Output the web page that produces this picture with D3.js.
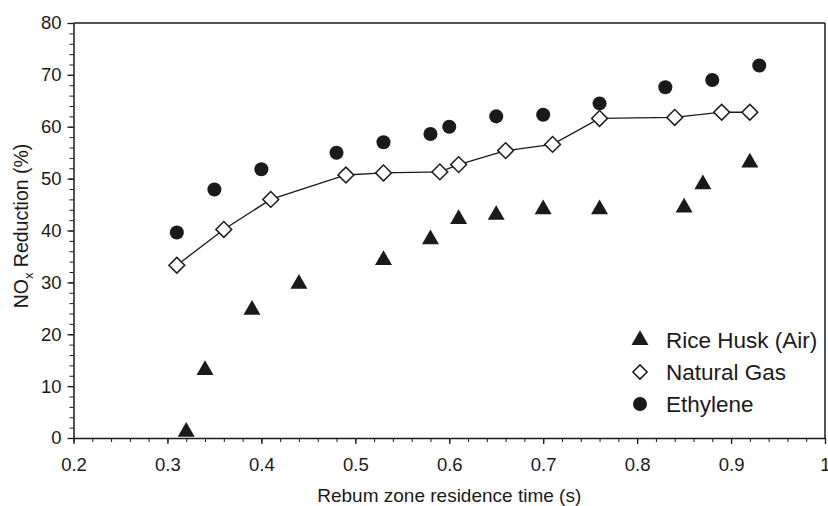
<!DOCTYPE html>
<html>
<head>
<meta charset="utf-8">
<script src="https://cdn.jsdelivr.net/npm/d3@7"></script>
<style>
  html, body { margin: 0; padding: 0; background: #fff; }
  text { font-family: Arial, "Liberation Sans", sans-serif; fill: #1a1a1a; }
</style>
</head>
<body>
<svg id="chart" width="828" height="506"></svg>
<script>
// ---- data ----
const riceX = [0.32, 0.34, 0.39, 0.44, 0.53, 0.58, 0.61, 0.65, 0.70, 0.76, 0.85, 0.87, 0.92];
const riceY = [1.2, 13.1, 24.7, 29.7, 34.3, 38.3, 42.2, 43.0, 44.1, 44.1, 44.4, 48.9, 53.1];
const gasX = [0.31, 0.36, 0.41, 0.49, 0.53, 0.59, 0.61, 0.66, 0.71, 0.76, 0.84, 0.89, 0.92];
const gasY = [33.3, 40.2, 46.0, 50.7, 51.1, 51.3, 52.7, 55.4, 56.6, 61.6, 61.8, 62.8, 62.8];
const ethX = [0.31, 0.35, 0.40, 0.48, 0.53, 0.58, 0.60, 0.65, 0.70, 0.76, 0.83, 0.88, 0.93];
const ethY = [39.6, 47.9, 51.8, 55.0, 57.0, 58.6, 60.0, 62.0, 62.3, 64.5, 67.6, 69.0, 71.8];
const xTicks = [0.2, 0.3, 0.4, 0.5, 0.6, 0.7, 0.8, 0.9, 1.0];
const xTickLabels = ["0.2", "0.3", "0.4", "0.5", "0.6", "0.7", "0.8", "0.9", "1"];
const yTicks = [0, 10, 20, 30, 40, 50, 60, 70, 80];
const legendLabels = ["Rice Husk (Air)", "Natural Gas", "Ethylene"];
const xTitle = "Rebum zone residence time (s)";

(function () {
// ---- layout ----
const svg = d3.select("#chart");
const mLeft = 73.5, mRight = 825, mTop = 23, mBottom = 438;
const ink = "#1a1a1a";
const x = d3.scaleLinear().domain([0.2, 1.0]).range([mLeft, mRight]);
const y = d3.scaleLinear().domain([0, 80]).range([mBottom, mTop]);

// minor ticks
const xMinor = d3.range(0.2, 1.0001, 0.02).map(v => +v.toFixed(2));
const yMinor = d3.range(0, 80.001, 2);

svg.append("g").attr("transform", `translate(0,${mBottom})`)
  .call(d3.axisBottom(x).tickValues(xMinor).tickSize(4).tickFormat(""))
  .call(g => g.select(".domain").remove())
  .selectAll("line").attr("stroke", ink);
svg.append("g").attr("transform", `translate(${mLeft},0)`)
  .call(d3.axisLeft(y).tickValues(yMinor).tickSize(4).tickFormat(""))
  .call(g => g.select(".domain").remove())
  .selectAll("line").attr("stroke", ink);

const xAxis = svg.append("g").attr("transform", `translate(0,${mBottom})`)
  .call(d3.axisBottom(x).tickValues(xTicks).tickSize(6).tickSizeOuter(0).tickPadding(14)
    .tickFormat((d, i) => xTickLabels[i]));
xAxis.select(".domain").attr("stroke", ink).attr("stroke-width", 1.5);
xAxis.selectAll("line").attr("stroke", ink).attr("stroke-width", 1.3);
xAxis.selectAll("text").attr("font-size", 18.5).style("fill", ink)
  .attr("font-family", "Arial, 'Liberation Sans', sans-serif");

const yAxis = svg.append("g").attr("transform", `translate(${mLeft},0)`)
  .call(d3.axisLeft(y).tickValues(yTicks).tickSize(6).tickSizeOuter(0).tickPadding(6));
yAxis.select(".domain").attr("stroke", ink).attr("stroke-width", 1.5);
yAxis.selectAll("line").attr("stroke", ink).attr("stroke-width", 1.3);
yAxis.selectAll("text").attr("font-size", 18.5).style("fill", ink)
  .attr("font-family", "Arial, 'Liberation Sans', sans-serif");

// frame top and right
svg.append("line").attr("x1", x(0.2)).attr("x2", x(1.0)).attr("y1", y(80)).attr("y2", y(80))
  .attr("stroke", ink).attr("stroke-width", 1.5);
svg.append("line").attr("x1", x(1.0)).attr("x2", x(1.0)).attr("y1", y(80)).attr("y2", y(0))
  .attr("stroke", ink).attr("stroke-width", 1.5);

// axis titles
svg.append("text").attr("x", x(0.6)).attr("y", 502).attr("text-anchor", "middle")
  .attr("font-size", 19).text(xTitle);
const yl = svg.append("text").attr("transform", `translate(28,226) rotate(-90)`)
  .attr("text-anchor", "middle").attr("font-size", 19.5);
yl.append("tspan").text("NO");
yl.append("tspan").attr("font-size", 13).attr("dy", 5).text("x");
yl.append("tspan").attr("dy", -5).text(" Reduction (%)");

// symbols
const triSym = d3.symbol().type(d3.symbolTriangle).size(125);
const diaSym = d3.symbol().type(d3.symbolSquare).size(125);
const cirSym = d3.symbol().type(d3.symbolCircle).size(155);

// natural gas line
const gasPts = gasX.map((v, i) => [v, gasY[i]]);
svg.append("path").datum(gasPts)
  .attr("d", d3.line().x(d => x(d[0])).y(d => y(d[1])))
  .attr("fill", "none").attr("stroke", ink).attr("stroke-width", 1.3);

// ethylene
svg.append("g").selectAll("path").data(ethX.map((v, i) => [v, ethY[i]])).join("path")
  .attr("d", cirSym).attr("transform", d => `translate(${x(d[0])},${y(d[1])})`)
  .attr("fill", ink);

// natural gas diamonds
svg.append("g").selectAll("path").data(gasPts).join("path")
  .attr("d", diaSym).attr("transform", d => `translate(${x(d[0])},${y(d[1])}) rotate(45)`)
  .attr("fill", "#fff").attr("stroke", ink).attr("stroke-width", 1.5);

// rice husk triangles
svg.append("g").selectAll("path").data(riceX.map((v, i) => [v, riceY[i]])).join("path")
  .attr("d", triSym).attr("transform", d => `translate(${x(d[0])},${y(d[1])})`)
  .attr("fill", ink);

// legend
const lg = svg.append("g");
const rows = [340, 372, 404];
lg.append("path").attr("d", triSym).attr("transform", `translate(640,${rows[0]})`).attr("fill", ink);
lg.append("path").attr("d", d3.symbol().type(d3.symbolSquare).size(100))
  .attr("transform", `translate(640,${rows[1]}) rotate(45)`)
  .attr("fill", "#fff").attr("stroke", ink).attr("stroke-width", 1.5);
lg.append("path").attr("d", d3.symbol().type(d3.symbolCircle).size(155))
  .attr("transform", `translate(640,${rows[2]})`).attr("fill", ink);
lg.selectAll("text").data(legendLabels).join("text")
  .attr("x", 666).attr("y", (d, i) => rows[i] + 8)
  .attr("font-size", 22.5).text(d => d);
})();
</script>
</body>
</html>
